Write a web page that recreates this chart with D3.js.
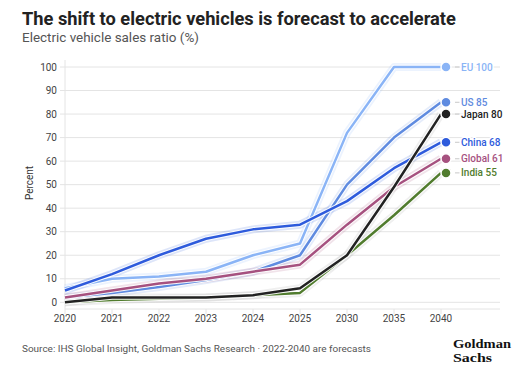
<!DOCTYPE html>
<html><head><meta charset="utf-8">
<script src="https://cdn.jsdelivr.net/npm/d3@7"></script>
<style>
html,body{margin:0;padding:0;background:#fff;}
svg{display:block;}
</style></head>
<body>
<svg id="chart" width="532" height="373" font-family="Roboto, 'Liberation Sans', sans-serif"></svg>
<script>
const years = ["2020","2021","2022","2023","2024","2025","2030","2035","2040"];
const seriesNames = ["EU","US","China","Global","India","Japan"];
const eu     = [6, 10, 11, 13, 20, 25, 72, 100, 100];
const us     = [2, 4, 6.5, 9.5, 13, 20, 50, 70, 85];
const china  = [5, 12, 20, 27, 31, 33, 43, 57, 68];
const global = [2, 5, 8, 10, 13, 16, 33, 49, 61];
const india  = [0, 1, 1.5, 2, 3, 4, 20, 37, 55];
const japan  = [0, 2, 2, 2, 3, 6, 20, 49, 80];
const seriesColors = ["#8ab4f6","#5f8be0","#2e5bdc","#a6517f","#517c2e","#222222"];
const yTicks = [0,10,20,30,40,50,60,70,80,90,100];
const titleText = "The shift to electric vehicles is forecast to accelerate";
const subtitleText = "Electric vehicle sales ratio (%)";
const sourceText = "Source: IHS Global Insight, Goldman Sachs Research \u00b7 2022-2040 are forecasts";
const yTitle = "Percent";
const logoLines = ["Goldman","Sachs"];

const valuesList = [eu, us, china, global, india, japan];
const series = seriesNames.map((n,i)=>({name:n, values:valuesList[i], color:seriesColors[i]}));

const svg = d3.select("#chart");
const x = d3.scalePoint().domain(years).range([65, 441]);
const y = d3.scaleLinear().domain([0,100]).range([302.3, 67]);
const gridRight = 500;

function fitText(sel, target){
  const n = sel.node();
  const w = n.getComputedTextLength();
  const fs = parseFloat(sel.attr("font-size"));
  sel.attr("font-size", (fs*target/w).toFixed(2));
}

// title
const t1 = svg.append("text").attr("x",22).attr("y",24.5).attr("font-size",18).attr("font-weight",700)
  .attr("fill","#222").text(titleText);
fitText(t1, 434);
const t2 = svg.append("text").attr("x",22).attr("y",41.5).attr("font-size",12).attr("fill","#555").text(subtitleText);
fitText(t2, 177);

// grid
const g = svg.append("g");
g.selectAll("line.grid").data(yTicks).join("line").attr("class","grid")
  .attr("x1",65).attr("x2",gridRight).attr("y1",d=>y(d)).attr("y2",d=>y(d))
  .attr("stroke","#e4e4e4").attr("stroke-width",1);
g.append("line").attr("x1",65).attr("x2",65).attr("y1",60).attr("y2",309).attr("stroke","#e4e4e4");
g.selectAll("line.yt").data(yTicks).join("line").attr("class","yt")
  .attr("x1",60).attr("x2",65).attr("y1",d=>y(d)).attr("y2",d=>y(d)).attr("stroke","#e4e4e4");
g.selectAll("text.yl").data(yTicks).join("text").attr("class","yl")
  .attr("x",57).attr("y",d=>y(d)).attr("dy","0.35em").attr("text-anchor","end")
  .attr("font-size",10).attr("fill","#444").text(d=>d);
g.append("line").attr("x1",65).attr("x2",gridRight).attr("y1",309).attr("y2",309).attr("stroke","#e4e4e4");
g.selectAll("line.xt").data(years).join("line").attr("class","xt")
  .attr("x1",d=>x(d)).attr("x2",d=>x(d)).attr("y1",309).attr("y2",314).attr("stroke","#e4e4e4");
g.selectAll("text.xl").data(years).join("text").attr("class","xl")
  .attr("x",d=>x(d)).attr("y",322).attr("text-anchor","middle")
  .attr("font-size",10).attr("fill","#444").text(d=>d);
svg.append("text").attr("transform","translate(33,183) rotate(-90)").attr("text-anchor","middle")
  .attr("font-size",10).attr("fill","#333").text(yTitle);

// lines
const line = d3.line().x((d,i)=>x(years[i])).y(d=>y(d));
const lg = svg.append("g");
series.forEach(s=>{
  lg.append("path").attr("d",line(s.values)).attr("fill","none")
    .attr("stroke", s.name==="Japan"||s.name==="India" ? "#999" : s.color)
    .attr("stroke-opacity",0.16).attr("stroke-width",8).attr("stroke-linejoin","round");
});
series.forEach(s=>{
  lg.append("path").attr("d",line(s.values)).attr("fill","none")
    .attr("stroke","#fff").attr("stroke-width",4.5).attr("stroke-linejoin","round").attr("stroke-opacity",0.9);
  lg.append("path").attr("d",line(s.values)).attr("fill","none")
    .attr("stroke",s.color).attr("stroke-width",2.5).attr("stroke-linejoin","round");
});

// end labels
const last = years.length-1;
const lab = svg.append("g");
series.forEach(s=>{
  const v = s.values[last];
  const yy = y(v);
  lab.append("line").attr("x1",455).attr("x2",459.5).attr("y1",yy).attr("y2",yy).attr("stroke","#c8c8c8");
  lab.append("circle").attr("cx",446).attr("cy",yy).attr("r",5).attr("fill",s.color)
    .attr("stroke","#fff").attr("stroke-width",1.5);
  lab.append("text").attr("x",461).attr("y",yy).attr("dy","0.35em").attr("font-size",10)
    .attr("font-weight",500).attr("fill",s.color)
    .attr("stroke","#fff").attr("stroke-width",3).attr("paint-order","stroke")
    .text(s.name + " " + v);
});

// footer
const src = svg.append("text").attr("x",22).attr("y",352).attr("font-size",10).attr("fill","#555").text(sourceText);
fitText(src, 349);
const logoFont = "'Liberation Serif', 'DejaVu Serif', serif";
svg.append("text").attr("x",453).attr("y",347.5).attr("font-family",logoFont)
  .attr("font-weight",700).attr("font-size",13).attr("fill","#111")
  .attr("textLength",58).attr("lengthAdjust","spacingAndGlyphs").text(logoLines[0]);
svg.append("text").attr("x",453).attr("y",361.5).attr("font-family",logoFont)
  .attr("font-weight",700).attr("font-size",13).attr("fill","#111")
  .attr("textLength",39).attr("lengthAdjust","spacingAndGlyphs").text(logoLines[1]);
</script>
</body></html>
